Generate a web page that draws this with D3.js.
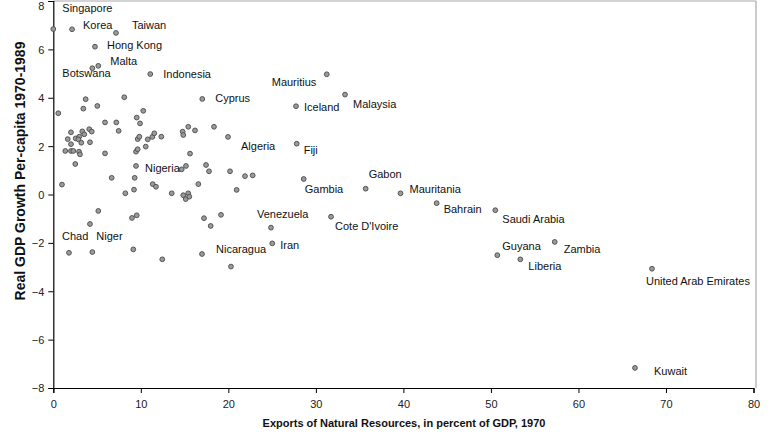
<!DOCTYPE html>
<html>
<head>
<meta charset="utf-8">
<script src="https://cdn.jsdelivr.net/npm/d3@7"></script>
<style>
  html, body { margin: 0; padding: 0; background: #fff; }
  svg { display: block; font-family: "Liberation Sans", Arial, sans-serif; }
</style>
</head>
<body>
<svg id="chart" width="773" height="438"></svg>
<script>
// ---- data ----
const labeledNames = ["Singapore","Korea","Taiwan","Hong Kong","Malta","Botswana","Indonesia","Cyprus",
  "Mauritius","Malaysia","Iceland","Algeria","Fiji","Gambia","Gabon","Mauritania","Bahrain","Saudi Arabia",
  "Guyana","Liberia","Zambia","United Arab Emirates","Kuwait","Venezuela","Cote D'Ivoire","Iran",
  "Nicaragua","Nigeria","Chad","Niger"];
const labeledExports = [0.0,2.14,7.16,4.76,5.14,4.46,11.08,17.02,
  31.24,33.33,27.73,19.96,27.81,28.61,35.69,39.67,43.8,50.5,
  50.73,53.36,57.29,68.4,66.46,24.87,31.73,25.02,
  16.99,9.45,1.79,4.46];
const labeledGrowth = [6.84,6.83,6.68,6.11,5.32,5.22,4.98,3.95,
  4.97,4.13,3.65,2.38,2.10,0.64,0.24,0.05,-0.36,-0.65,
  -2.51,-2.68,-1.96,-3.07,-7.17,-1.37,-0.92,-2.02,
  -2.46,1.18,-2.41,-2.38];
const otherExports = [3.70,8.11,0.57,3.43,5.03,10.28,9.53,9.91,5.91,7.20,7.47,2.02,3.31,4.11,4.39,3.54,
  1.65,2.56,2.97,2.86,2.02,3.20,4.19,1.37,2.02,2.29,2.94,3.05,2.51,0.99,5.91,6.67,8.23,9.22,9.30,9.45,
  9.64,10.56,9.64,9.83,10.79,11.31,11.54,12.34,11.36,11.73,13.53,14.67,15.16,14.78,14.85,15.42,16.19,
  18.36,15.62,17.45,17.79,20.19,16.57,14.85,15.13,15.42,15.54,20.95,21.90,22.78,5.14,4.19,8.99,9.53,
  17.22,17.98,19.16,9.14,12.45,20.30];
const otherGrowth = [3.94,4.02,3.36,3.55,3.66,3.46,3.18,2.94,2.98,2.98,2.63,2.57,2.61,2.70,2.60,2.49,
  2.29,2.32,2.39,2.28,2.08,2.14,2.16,1.80,1.80,1.80,1.77,1.66,1.26,0.41,1.70,0.69,0.05,0.20,0.69,1.77,
  1.87,1.98,2.29,2.39,2.28,2.38,2.53,2.39,0.43,0.32,0.05,1.04,1.18,2.60,2.46,2.80,2.65,
  2.80,1.69,1.22,0.96,0.96,0.43,-0.03,-0.19,0.05,-0.09,0.19,0.76,0.79,-0.68,-1.22,-0.97,-0.86,
  -0.98,-1.30,-0.84,-2.27,-2.68,-2.98];
const xTicks = [0,10,20,30,40,50,60,70,80];
const yTicks = [-8,-6,-4,-2,0,2,4,6,8];
const xTitle = "Exports of Natural Resources, in percent of GDP, 1970";
const yTitle = "Real GDP Growth Per-capita 1970-1989";

// ---- label layout (pixel offsets from point to label start / centre) ----
const labelOffset = {
  "Singapore":[9,-21], "Korea":[11,-4], "Taiwan":[16,-8], "Hong Kong":[12,-2], "Malta":[12,-5],
  "Botswana":[-30,5], "Indonesia":[13,0], "Cyprus":[13,-1], "Mauritius":[-55,8], "Malaysia":[8,9],
  "Iceland":[8,1], "Algeria":[13,9], "Fiji":[7,6], "Gambia":[1,10], "Gabon":[3,-15],
  "Mauritania":[9,-4], "Bahrain":[7,6], "Saudi Arabia":[7,9], "Guyana":[5,-9], "Liberia":[8,7],
  "Zambia":[9,7], "United Arab Emirates":[-6,12], "Kuwait":[19,3], "Venezuela":[-14,-14],
  "Cote D'Ivoire":[4,9], "Iran":[8,2], "Nicaragua":[14,-5], "Nigeria":[9,2], "Chad":[-7,-17],
  "Niger":[4,-16]
};

const svg = d3.select("#chart");
const x = d3.scaleLinear().domain([0, 80]).range([53.3, 753.5]);
const y = d3.scaleLinear().domain([-8, 8]).range([388, 1]);

// frame (top / right, light)
svg.append("line").attr("x1", x(0)).attr("x2", 756).attr("y1", 1).attr("y2", 1)
  .attr("stroke", "#a8a8a8").attr("stroke-width", 1.2);
svg.append("line").attr("x1", 756).attr("x2", 756).attr("y1", 1).attr("y2", y(-8))
  .attr("stroke", "#a8a8a8").attr("stroke-width", 1.2);

const xAxis = svg.append("g").attr("transform", `translate(0,${y(-8)})`)
  .call(d3.axisBottom(x).tickValues(xTicks).tickSize(5).tickPadding(7).tickFormat(d3.format("d")));
const yAxis = svg.append("g").attr("transform", `translate(${x(0)},0)`)
  .call(d3.axisLeft(y).tickValues(yTicks).tickSize(5).tickPadding(4).tickFormat(d3.format("d")));
[xAxis, yAxis].forEach(g => {
  g.select(".domain").attr("stroke", "#000").attr("stroke-width", 1.2);
  g.selectAll(".tick line").attr("stroke", "#000");
  g.selectAll(".tick text").attr("fill", "#222").style("font-size", "11px")
    .style("font-family", "'Liberation Sans', Arial, sans-serif");
});
yAxis.selectAll(".tick text").attr("dy", d => d === 8 ? "0.8em" : "0.36em");

// points
const others = otherExports.map((v, i) => ({x: v, y: otherGrowth[i]}));
const labeled = labeledNames.map((n, i) => ({name: n, x: labeledExports[i], y: labeledGrowth[i]}));
const allPts = others.concat(labeled);
svg.append("g").selectAll("circle").data(allPts).join("circle")
  .attr("cx", d => x(d.x)).attr("cy", d => y(d.y)).attr("r", 2.4)
  .attr("fill", "#9a9a9a").attr("stroke", "#4a4a4a").attr("stroke-width", 0.9);

// labels
svg.append("g").selectAll("text").data(labeled).join("text")
  .attr("x", d => x(d.x) + labelOffset[d.name][0])
  .attr("y", d => y(d.y) + labelOffset[d.name][1])
  .attr("dy", "0.36em")
  .style("font-size", "11px").attr("fill", "#111")
  .text(d => d.name);

// titles
svg.append("text").attr("x", 404).attr("y", 427).attr("text-anchor", "middle")
  .style("font-size", "11px").style("font-weight", "bold").attr("fill", "#111").text(xTitle);
svg.append("text").attr("transform", "translate(25,171) rotate(-90)").attr("text-anchor", "middle")
  .style("font-size", "14px").style("font-weight", "bold").attr("fill", "#111").text(yTitle);
</script>
</body>
</html>
